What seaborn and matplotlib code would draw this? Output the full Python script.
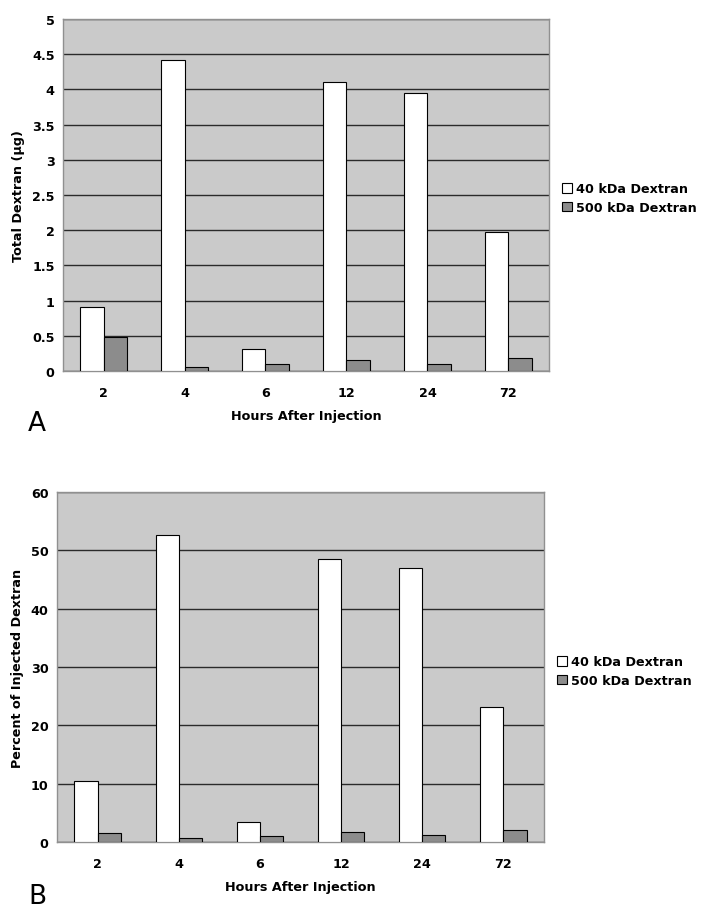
import numpy as np
import pandas as pd
import seaborn as sns
import matplotlib.pyplot as plt
from matplotlib.ticker import FixedLocator

# data
hours = ['2', '4', '6', '12', '24', '72']
series = ['40 kDa Dextran', '500 kDa Dextran']
total_40 = [0.91, 4.41, 0.31, 4.11, 3.95, 1.97]
total_500 = [0.48, 0.06, 0.10, 0.15, 0.10, 0.19]
pct_40 = [10.4, 52.6, 3.5, 48.6, 47.0, 23.1]
pct_500 = [1.6, 0.6, 1.1, 1.7, 1.2, 2.1]

sns.set_style("white")
plt.rcParams['font.family'] = ['DejaVu Sans']
plt.rcParams['text.color'] = 'black'
plt.rcParams['axes.labelcolor'] = 'black'
plt.rcParams['xtick.color'] = 'black'
plt.rcParams['ytick.color'] = 'black'

bar_colors = ['#ffffff', '#8c8c8c']
bg_color = '#cacaca'
fs = 9.2


def make_df(a, b):
    return pd.DataFrame({'hours': hours * 2,
                         'series': [series[0]] * 6 + [series[1]] * 6,
                         'value': a + b})


def style_ticklabels(ax):
    for lab in ax.get_xticklabels() + ax.get_yticklabels():
        lab.set_fontweight('bold')
        lab.set_fontsize(fs)
        lab.set_color('black')


def draw_panel(ax, df, ylabel, ymax, ystep, letter, letter_y, leg_xy):
    sns.barplot(ax=ax, data=df, x='hours', y='value', hue='series', order=hours,
                palette=bar_colors, width=0.57, gap=0, edgecolor='black',
                linewidth=0.8, saturation=1, legend=True, zorder=3)
    ax.set_facecolor(bg_color)
    ax.set_ylim(0, ymax)
    ax.set_xlim(-0.5, 5.5)
    ax.set_yticks(np.arange(0, ymax + ystep / 2, ystep))
    ax.yaxis.grid(True, color='#2a2a2a', linewidth=1.0, zorder=1)
    ax.xaxis.grid(False)
    ax.set_axisbelow(True)
    for s in ax.spines.values():
        s.set_color('#909090')
        s.set_linewidth(1.0)
    ax.tick_params(axis='x', which='major', length=0, pad=11)
    ax.xaxis.set_minor_locator(FixedLocator(np.arange(-0.5, 6, 1)))
    ax.tick_params(axis='x', which='minor', length=4, color='#909090', direction='out')
    ax.tick_params(axis='y', length=4, color='#909090', direction='out', pad=2)
    style_ticklabels(ax)
    ax.set_xlabel('Hours After Injection', fontsize=fs, fontweight='bold', labelpad=7)
    ax.set_ylabel(ylabel, fontsize=fs, fontweight='bold', labelpad=5)
    h, l = ax.get_legend_handles_labels()
    ax.legend(h, l, loc='upper left', bbox_to_anchor=leg_xy, bbox_transform=fig.transFigure,
              frameon=False, prop={'weight': 'bold', 'size': fs}, handlelength=0.8,
              handleheight=0.8, handletextpad=0.3, labelspacing=0.45, borderaxespad=0)
    fig.text(0.040, letter_y, letter, fontsize=19, ha='left', va='center')


fig = plt.figure(figsize=(7.04, 9.2), dpi=100)
ax_a = fig.add_axes([0.0895, 0.5957, 0.6903, 0.3826])
ax_b = fig.add_axes([0.081, 0.0837, 0.6918, 0.3804])

draw_panel(ax_a, make_df(total_40, total_500), 'Total Dextran (µg)', 5, 0.5, 'A',
           1 - 424 / 920, (557 / 704, 1 - 178 / 920))
ax_a.set_yticklabels(['0', '0.5', '1', '1.5', '2', '2.5', '3', '3.5', '4', '4.5', '5'])
style_ticklabels(ax_a)

draw_panel(ax_b, make_df(pct_40, pct_500), 'Percent of Injected Dextran', 60, 10, 'B',
           1 - 897 / 920, (552 / 704, 1 - 651 / 920))

fig.savefig('out.png', dpi=100)
